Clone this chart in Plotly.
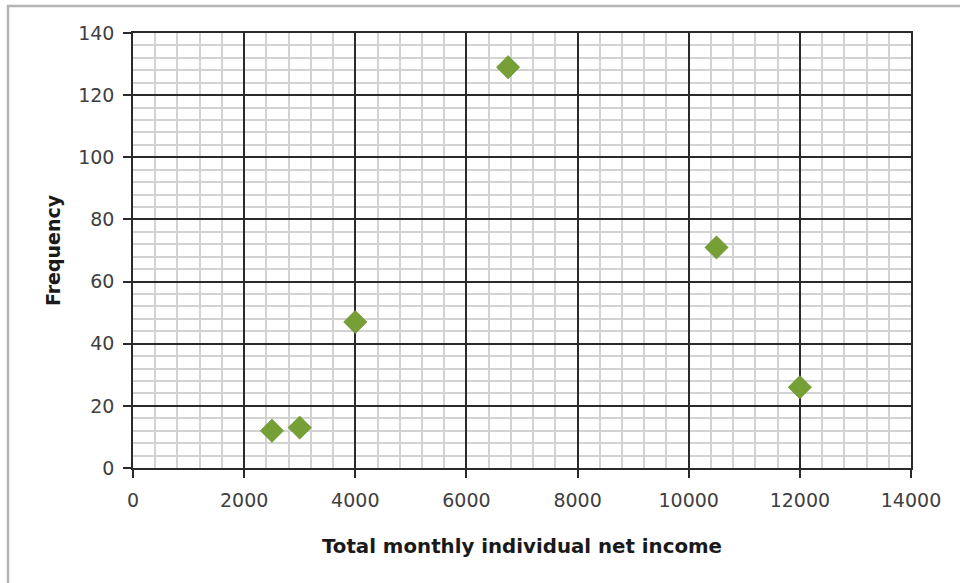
import plotly.graph_objects as go

income = [2500, 3000, 4000, 6750, 10500, 12000]
frequency = [12, 13, 47, 129, 71, 26]

x_title = "Total monthly individual net income"
y_title = "Frequency"

fig = go.Figure()
fig.add_trace(go.Scatter(
    x=income, y=frequency, mode="markers",
    marker=dict(symbol="diamond", size=18, color="#76a035",
                line=dict(color="#5f8a2a", width=0.5)),
    showlegend=False,
))

font_family = "'DejaVu Sans', sans-serif"
fig.update_layout(
    width=960, height=583,
    margin=dict(l=133, r=49, t=33, b=115),
    paper_bgcolor="white", plot_bgcolor="white",
    font=dict(family=font_family, color="#404040", size=19),
    xaxis=dict(
        range=[0, 14000], tick0=0, dtick=2000, tickformat="d",
        showgrid=True, gridcolor="#2a2a2a", gridwidth=1.5,
        minor=dict(dtick=400, showgrid=True, gridcolor="#d2d2d2", gridwidth=1.5),
        showline=True, linecolor="#2a2a2a", linewidth=1.5,
        ticks="outside", ticklen=8, tickcolor="#2a2a2a", tickwidth=1.5,
        ticklabelstandoff=6,
        zeroline=False, mirror=True,
        title=dict(text="<b>" + x_title + "</b>", font=dict(size=19.8, color="#1a1a1a"), standoff=30),
        tickfont=dict(size=19, color="#404040"),
    ),
    yaxis=dict(
        range=[0, 140], tick0=0, dtick=20, tickformat="d",
        showgrid=True, gridcolor="#2a2a2a", gridwidth=1.5,
        minor=dict(dtick=4, showgrid=True, gridcolor="#d2d2d2", gridwidth=1.5),
        showline=True, linecolor="#2a2a2a", linewidth=1.5,
        ticks="outside", ticklen=8, tickcolor="#2a2a2a", tickwidth=1.5,
        ticklabelstandoff=5,
        zeroline=False, mirror=True,
        title=dict(text="<b>" + y_title + "</b>", font=dict(size=19, color="#1a1a1a"), standoff=13),
        tickfont=dict(size=19, color="#404040"),
    ),
    shapes=[dict(type="rect", xref="paper", yref="paper",
                 x0=(8 - 133) / 778, x1=1.2, y0=-0.4, y1=(468 - 6) / 435,
                 line=dict(color="#b5b5b5", width=2.5), fillcolor="rgba(0,0,0,0)", layer="below")],
)

fig.write_html("out.html")
